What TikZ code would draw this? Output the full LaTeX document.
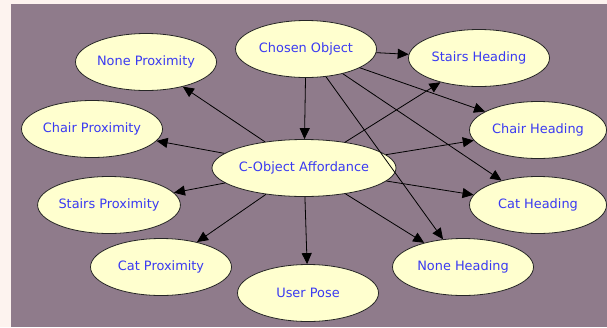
\documentclass[tikz,border=0pt]{standalone}
\usepackage{fontspec}
\setmainfont{DejaVu Sans}
\usetikzlibrary{arrows.meta,shapes.geometric}
\definecolor{NetPaper}{HTML}{FDF3EF}
\definecolor{NetPurple}{HTML}{8F7B8B}
\definecolor{NetYellow}{HTML}{FFFFCF}
\definecolor{NetBlue}{HTML}{3A3AF2}
\tikzset{
  varnode/.style={
    ellipse,
    draw=black!85,
    line width=.8pt,
    fill=NetYellow,
    text=NetBlue,
    minimum width=141pt,
    minimum height=57pt,
    inner sep=0pt,
    font=\fontsize{12.9}{15}\selectfont
  },
  link/.style={-{Triangle[length=11pt,width=10pt]},draw=black,line width=.8pt}
}

\begin{document}
\begin{tikzpicture}[x=1pt,y=-1pt]
  % paper margin and network canvas
  \fill[NetPaper] (0,0) rectangle (607,327);
  \fill[NetPurple] (11,4) rectangle (607,327);
  \useasboundingbox (0,0) rectangle (607,327);

  % parent nodes
  \node[varnode] (chosen)  at (306,49)  {Chosen Object};
  \node[varnode] (afford)  at (304,168) {C-Object Affordance};

  % proximity children on the left
  \node[varnode] (noneprox)   at (146,62)  {None Proximity};
  \node[varnode] (chairprox)  at (92,129)  {Chair Proximity};
  \node[varnode] (stairsprox) at (109,205) {Stairs Proximity};
  \node[varnode] (catprox)    at (161,267) {Cat Proximity};
  \node[varnode] (pose)       at (308,293) {User Pose};

  % heading children on the right
  \node[varnode] (stairshead) at (479,58)  {Stairs Heading};
  \node[varnode,minimum width=137pt] (chairhead)  at (538,130) {Chair Heading};
  \node[varnode,minimum width=137pt] (cathead)    at (538,205) {Cat Heading};
  \node[varnode] (nonehead)   at (463,267) {None Heading};

  % links from the chosen object
  \draw[link] (chosen) -- (afford);
  \draw[link] (chosen) -- (stairshead);
  \draw[link] (chosen) -- (chairhead);
  \draw[link] (chosen) -- (cathead);
  \draw[link] (chosen) -- (nonehead);

  % links from the affordance
  \foreach \child in {noneprox,chairprox,stairsprox,catprox,pose,nonehead,cathead,chairhead,stairshead}
    \draw[link] (afford) -- (\child);
\end{tikzpicture}
\end{document}
